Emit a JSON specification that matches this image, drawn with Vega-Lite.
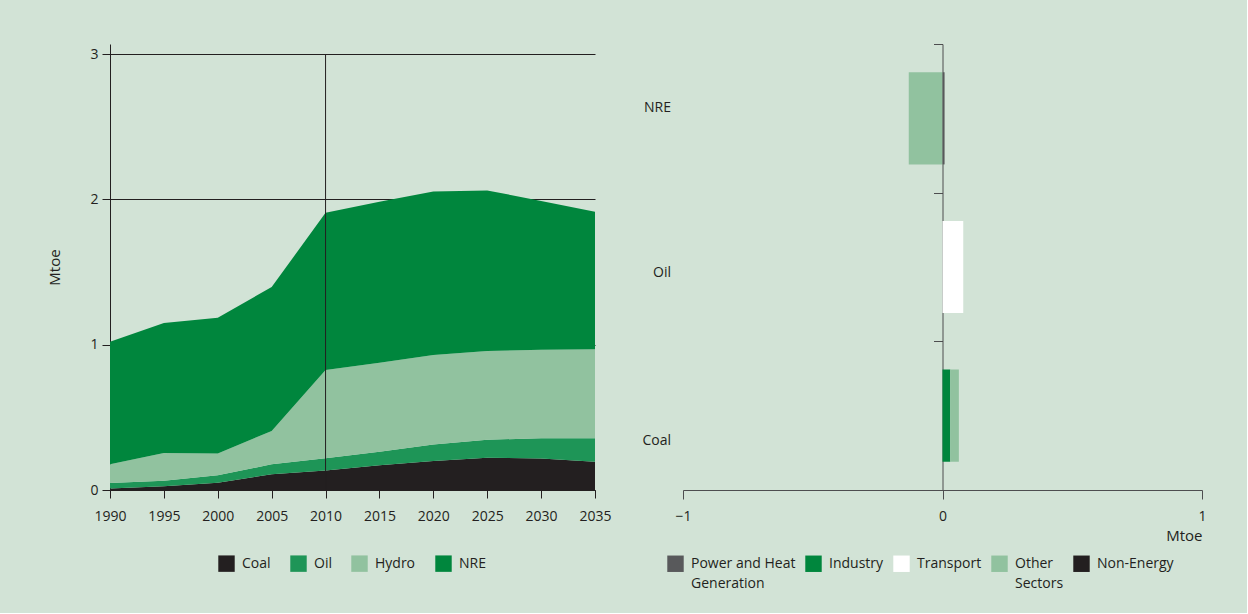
{
  "$schema": "https://vega.github.io/schema/vega-lite/v6.json",
  "background": "#d2e3d6",
  "padding": {"left": 47, "top": 43, "right": 40, "bottom": 22},
  "spacing": 29,
  "resolve": {"scale": {"color": "independent"}, "legend": {"color": "independent"}},
  "config": {
    "font": "Open Sans",
    "view": {"stroke": null},
    "axis": {
      "labelFont": "Open Sans", "labelFontSize": 14, "labelColor": "#231f20",
      "titleFont": "Open Sans", "titleFontSize": 15, "titleFontWeight": "normal", "titleColor": "#231f20",
      "domainColor": "#231f20", "tickColor": "#231f20", "labelFlush": false, "labelOverlap": false
    },
    "legend": {
      "labelFont": "Open Sans", "labelFontSize": 14, "labelColor": "#231f20",
      "symbolType": "square", "symbolSize": 270, "symbolStrokeWidth": 0, "symbolOpacity": 1,
      "direction": "horizontal", "title": null
    }
  },
  "hconcat": [
    {
      "width": 485,
      "height": 446,
      "data": {"values": [
        {"year": 1990, "fuel": "Coal", "value": 0.01},
        {"year": 1995, "fuel": "Coal", "value": 0.025},
        {"year": 2000, "fuel": "Coal", "value": 0.05},
        {"year": 2005, "fuel": "Coal", "value": 0.108},
        {"year": 2010, "fuel": "Coal", "value": 0.135},
        {"year": 2015, "fuel": "Coal", "value": 0.17},
        {"year": 2020, "fuel": "Coal", "value": 0.2},
        {"year": 2025, "fuel": "Coal", "value": 0.222},
        {"year": 2030, "fuel": "Coal", "value": 0.216},
        {"year": 2035, "fuel": "Coal", "value": 0.195},
        {"year": 1990, "fuel": "Oil", "value": 0.038},
        {"year": 1995, "fuel": "Oil", "value": 0.039},
        {"year": 2000, "fuel": "Oil", "value": 0.051},
        {"year": 2005, "fuel": "Oil", "value": 0.069},
        {"year": 2010, "fuel": "Oil", "value": 0.083},
        {"year": 2015, "fuel": "Oil", "value": 0.094},
        {"year": 2020, "fuel": "Oil", "value": 0.114},
        {"year": 2025, "fuel": "Oil", "value": 0.124},
        {"year": 2030, "fuel": "Oil", "value": 0.14},
        {"year": 2035, "fuel": "Oil", "value": 0.161},
        {"year": 1990, "fuel": "Hydro", "value": 0.129},
        {"year": 1995, "fuel": "Hydro", "value": 0.191},
        {"year": 2000, "fuel": "Hydro", "value": 0.151},
        {"year": 2005, "fuel": "Hydro", "value": 0.229},
        {"year": 2010, "fuel": "Hydro", "value": 0.608},
        {"year": 2015, "fuel": "Hydro", "value": 0.612},
        {"year": 2020, "fuel": "Hydro", "value": 0.615},
        {"year": 2025, "fuel": "Hydro", "value": 0.61},
        {"year": 2030, "fuel": "Hydro", "value": 0.61},
        {"year": 2035, "fuel": "Hydro", "value": 0.612},
        {"year": 1990, "fuel": "NRE", "value": 0.843},
        {"year": 1995, "fuel": "NRE", "value": 0.895},
        {"year": 2000, "fuel": "NRE", "value": 0.934},
        {"year": 2005, "fuel": "NRE", "value": 0.991},
        {"year": 2010, "fuel": "NRE", "value": 1.082},
        {"year": 2015, "fuel": "NRE", "value": 1.108},
        {"year": 2020, "fuel": "NRE", "value": 1.126},
        {"year": 2025, "fuel": "NRE", "value": 1.106},
        {"year": 2030, "fuel": "NRE", "value": 1.024},
        {"year": 2035, "fuel": "NRE", "value": 0.947}
      ]},
      "layer": [
        {
          "transform": [{"calculate": "indexof(['Coal','Oil','Hydro','NRE'], datum.fuel)", "as": "o"}],
          "mark": {"type": "area"},
          "encoding": {
            "x": {
              "field": "year", "type": "quantitative",
              "scale": {"domain": [1990, 2035], "nice": false, "zero": false},
              "axis": {"values": [1990, 1995, 2000, 2005, 2010, 2015, 2020, 2025, 2030, 2035], "format": "d", "title": null, "grid": false, "tickSize": 8, "labelPadding": 11}
            },
            "y": {
              "field": "value", "type": "quantitative", "stack": "zero",
              "scale": {"domain": [0, 3.07], "nice": false},
              "axis": {"values": [0, 1, 2, 3], "format": "d", "title": "Mtoe", "grid": true, "gridColor": "#231f20", "gridOpacity": 1, "tickSize": 8, "labelPadding": 4, "titlePadding": 27}
            },
            "color": {
              "field": "fuel", "type": "nominal",
              "scale": {"domain": ["Coal", "Oil", "Hydro", "NRE"], "range": ["#231f20", "#1e9557", "#91c29f", "#00863d"]},
              "legend": {"orient": "none", "legendX": 108, "legendY": 511, "columnPadding": 19, "labelOffset": 7}
            },
            "order": {"field": "o", "type": "quantitative"}
          }
        },
        {
          "data": {"values": [{"marker": "2010"}]},
          "mark": {"type": "rule", "color": "#231f20", "strokeWidth": 1},
          "encoding": {
            "x": {"datum": 2010, "type": "quantitative"},
            "y": {"datum": 0, "type": "quantitative"},
            "y2": {"datum": 3}
          }
        }
      ]
    },
    {
      "width": 519,
      "height": 446,
      "data": {"values": [
        {"fuel": "NRE", "sector": "Other Sectors", "value": -0.13},
        {"fuel": "NRE", "sector": "Power and Heat Generation", "value": 0.008},
        {"fuel": "Oil", "sector": "Transport", "value": 0.08},
        {"fuel": "Coal", "sector": "Industry", "value": 0.03},
        {"fuel": "Coal", "sector": "Other Sectors", "value": 0.033}
      ]},
      "transform": [{"calculate": "indexof(['Power and Heat Generation','Industry','Transport','Other Sectors','Non-Energy'], datum.sector)", "as": "o"}],
      "mark": {"type": "bar"},
      "encoding": {
        "y": {
          "field": "fuel", "type": "nominal", "sort": ["NRE", "Oil", "Coal"],
          "scale": {"paddingInner": 0.38, "paddingOuter": 0.19},
          "axis": {
            "title": null, "orient": "left", "offset": -259.5, "tickSize": 9, "tickOffset": -74.3,
            "labelPadding": 263, "domainColor": "#4d4d4f", "tickColor": "#4d4d4f",
            "labelOffset": {"condition": [{"test": "datum.value === 'NRE'", "value": 63}, {"test": "datum.value === 'Oil'", "value": 80}], "value": 99}
          }
        },
        "x": {
          "field": "value", "type": "quantitative", "stack": "zero",
          "scale": {"domain": [-1, 1], "nice": false},
          "axis": {"values": [-1, 0, 1], "labelExpr": "format(datum.value, 'd')", "labelOverlap": false, "labelBound": false, "title": "Mtoe", "titleAnchor": "end", "grid": false, "tickSize": 9, "labelPadding": 10, "titlePadding": 5, "domainColor": "#4d4d4f", "tickColor": "#4d4d4f"}
        },
        "color": {
          "field": "sector", "type": "nominal",
          "scale": {"domain": ["Power and Heat Generation", "Industry", "Transport", "Other Sectors", "Non-Energy"], "range": ["#58595b", "#00863d", "#ffffff", "#91c29f", "#231f20"]},
          "legend": {
            "orient": "none", "legendX": -16, "legendY": 511, "columnPadding": 9, "labelOffset": 7,
            "labelExpr": "datum.label === 'Power and Heat Generation' ? ['Power and Heat', 'Generation'] : datum.label === 'Other Sectors' ? ['Other', 'Sectors'] : [datum.label, '']",
            "encode": {"labels": {"update": {"lineHeight": {"value": 20}}}}
          }
        },
        "order": {"field": "o", "type": "quantitative"}
      }
    }
  ]
}
